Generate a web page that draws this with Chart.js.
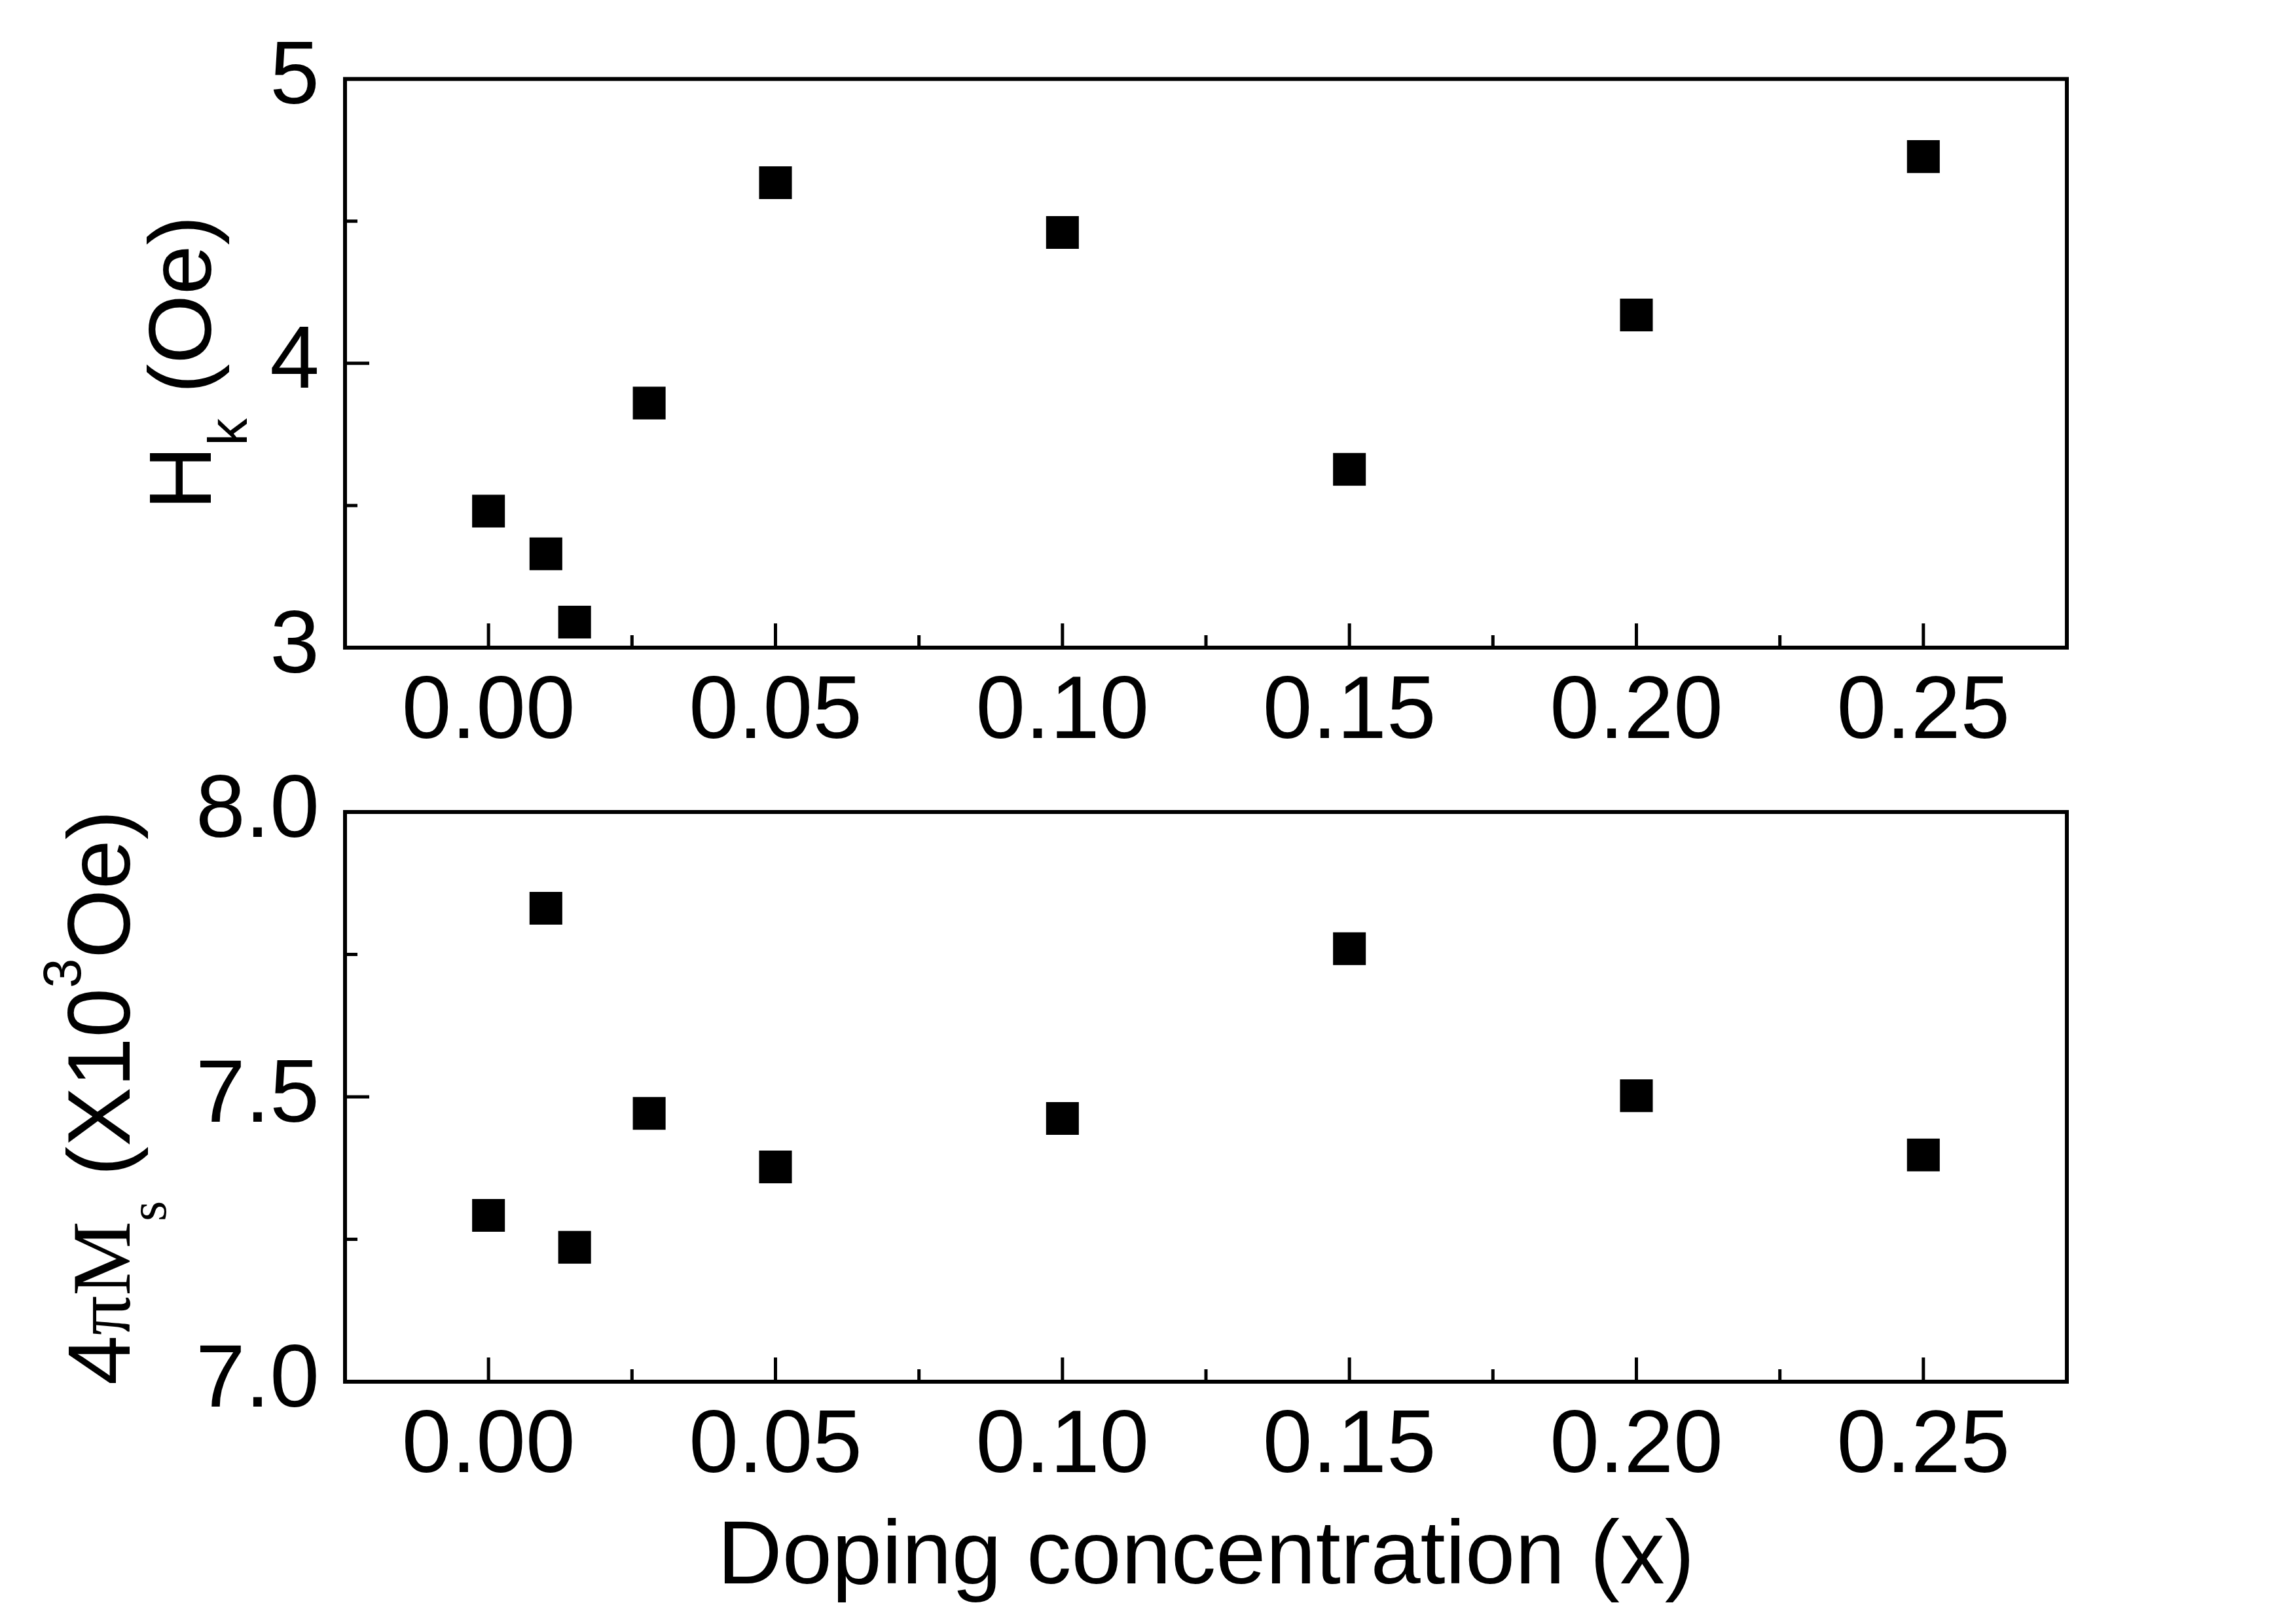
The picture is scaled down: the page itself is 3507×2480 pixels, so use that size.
<!DOCTYPE html>
<html>
<head>
<meta charset="utf-8">
<script src="https://cdn.jsdelivr.net/npm/chart.js@4"></script>
<style>
  html, body { margin: 0; padding: 0; background: #fff; }
  body { width: 3507px; height: 2480px; position: relative; overflow: hidden; }
  canvas { position: absolute; left: 0; }
  #hkChart { top: 0; }
  #msChart { top: 1100px; }
</style>
</head>
<body>
<canvas id="hkChart" width="3507" height="1200"></canvas>
<canvas id="msChart" width="3507" height="1380"></canvas>
<script>
// data
const doping = [0, 0.01, 0.015, 0.028, 0.05, 0.10, 0.15, 0.20, 0.25];
const hk = [3.48, 3.33, 3.09, 3.86, 4.635, 4.46, 3.627, 4.17, 4.727];
const ms = [7.292, 7.831, 7.236, 7.471, 7.377, 7.462, 7.760, 7.502, 7.398];

// ticks
const xTicks = [0, 0.05, 0.10, 0.15, 0.20, 0.25];
const xMinor = [0.025, 0.075, 0.125, 0.175, 0.225];
const hkTicks = [3, 4, 5];
const hkMinor = [3.5, 4.5];
const msTicks = [7.0, 7.5, 8.0];
const msMinor = [7.25, 7.75];

const SANS = '"Liberation Sans", Arial, sans-serif';
const SERIF = '"Liberation Serif", "Times New Roman", serif';
const W = 3507;
const LEFT = 527, RIGHT = 3157;

Chart.defaults.font.family = SANS;
Chart.defaults.color = '#000';

// draw a label made of pieces with different fonts / sub / superscripts
function drawRich(ctx, parts, x, y, rotate) {
  ctx.save();
  ctx.translate(x, y);
  if (rotate) ctx.rotate(-Math.PI / 2);
  ctx.fillStyle = '#000';
  ctx.textAlign = 'left';
  ctx.textBaseline = 'alphabetic';
  let total = 0;
  parts.forEach(p => {
    ctx.font = p.font;
    p.w = ctx.measureText(p.text).width;
    total += p.w;
  });
  let cx = -total / 2;
  parts.forEach(p => {
    ctx.font = p.font;
    ctx.fillText(p.text, cx, p.dy || 0);
    cx += p.w;
  });
  ctx.restore();
}

// frame, inward ticks and titles
function framePlugin(yTicks, yMinor, titles) {
  return {
    id: 'frame',
    afterDatasetsDraw(chart) {
      const { ctx, chartArea: a, scales: { x, y } } = chart;
      ctx.save();
      ctx.strokeStyle = '#000';
      ctx.lineWidth = 5;
      ctx.beginPath();
      xTicks.forEach(v => {
        const px = x.getPixelForValue(v);
        ctx.moveTo(px, a.bottom);
        ctx.lineTo(px, a.bottom - 37);
      });
      xMinor.forEach(v => {
        const px = x.getPixelForValue(v);
        ctx.moveTo(px, a.bottom);
        ctx.lineTo(px, a.bottom - 19);
      });
      yTicks.forEach(v => {
        const py = y.getPixelForValue(v);
        ctx.moveTo(a.left, py);
        ctx.lineTo(a.left + 37, py);
      });
      yMinor.forEach(v => {
        const py = y.getPixelForValue(v);
        ctx.moveTo(a.left, py);
        ctx.lineTo(a.left + 19, py);
      });
      ctx.stroke();
      ctx.lineWidth = 6;
      ctx.strokeRect(a.left, a.top, a.width, a.height);
      titles.forEach(t => drawRich(ctx, t.parts, t.x, t.y, t.rotate));
      ctx.restore();
    }
  };
}

function makeChart(id, values, yTicks, yMinor, yMin, yMax, yFmt, padTop, xHeight, titles) {
  const points = doping.map((d, i) => ({ x: d, y: values[i] }));
  return new Chart(document.getElementById(id), {
    type: 'scatter',
    data: {
      datasets: [{
        data: points,
        pointStyle: 'rect',
        pointRadius: 35.4,
        pointBorderWidth: 0,
        pointBackgroundColor: '#000',
        showLine: false
      }]
    },
    options: {
      responsive: false,
      devicePixelRatio: 1,
      animation: false,
      events: [],
      layout: { padding: { top: padTop, right: W - RIGHT, left: 0, bottom: 0 } },
      plugins: { legend: { display: false }, tooltip: { enabled: false } },
      scales: {
        x: {
          type: 'linear',
          min: -0.025,
          max: 0.275,
          afterBuildTicks: s => { s.ticks = xTicks.map(v => ({ value: v })); },
          afterFit: s => { s.height = xHeight; },
          grid: { display: false, drawTicks: false },
          border: { display: false },
          ticks: {
            font: { size: 136 },
            padding: 19,
            maxRotation: 0,
            autoSkip: false,
            callback: v => v.toFixed(2)
          }
        },
        y: {
          type: 'linear',
          min: yMin,
          max: yMax,
          afterBuildTicks: s => { s.ticks = yTicks.map(v => ({ value: v })); },
          afterFit: s => { s.width = LEFT; },
          grid: { display: false, drawTicks: false },
          border: { display: false },
          ticks: {
            font: { size: 136 },
            padding: 39,
            autoSkip: false,
            callback: yFmt
          }
        }
      }
    },
    plugins: [framePlugin(yTicks, yMinor, titles)]
  });
}

const sans = s => s + 'px ' + SANS;
const serif = s => s + 'px ' + SERIF;

// top panel: canvas at page y 0, plot box 120..989
makeChart('hkChart', hk, hkTicks, hkMinor, 3, 5, v => String(v), 120, 1200 - 989, [
  {
    rotate: true, x: 322, y: 554,
    parts: [
      { text: 'H', font: sans(136) },
      { text: 'k', font: sans(84), dy: 55 },
      { text: ' (Oe)', font: sans(136) }
    ]
  }
]);

// bottom panel: canvas at page y 1100, plot box 1240..2110
makeChart('msChart', ms, msTicks, msMinor, 7, 8, v => v.toFixed(1), 140, 1380 - 1010, [
  {
    rotate: true, x: 198, y: 1676 - 1100,
    parts: [
      { text: '4', font: sans(136) },
      { text: '\u03c0', font: serif(120) },
      { text: 'M', font: serif(128) },
      { text: 's', font: serif(80), dy: 55 },
      { text: ' (X10', font: sans(136) },
      { text: '3', font: sans(81), dy: -75 },
      { text: 'Oe)', font: sans(136) }
    ]
  },
  {
    rotate: false, x: 1842, y: 2418 - 1100,
    parts: [{ text: 'Doping concentration (x)', font: sans(137) }]
  }
]);
</script>
</body>
</html>
